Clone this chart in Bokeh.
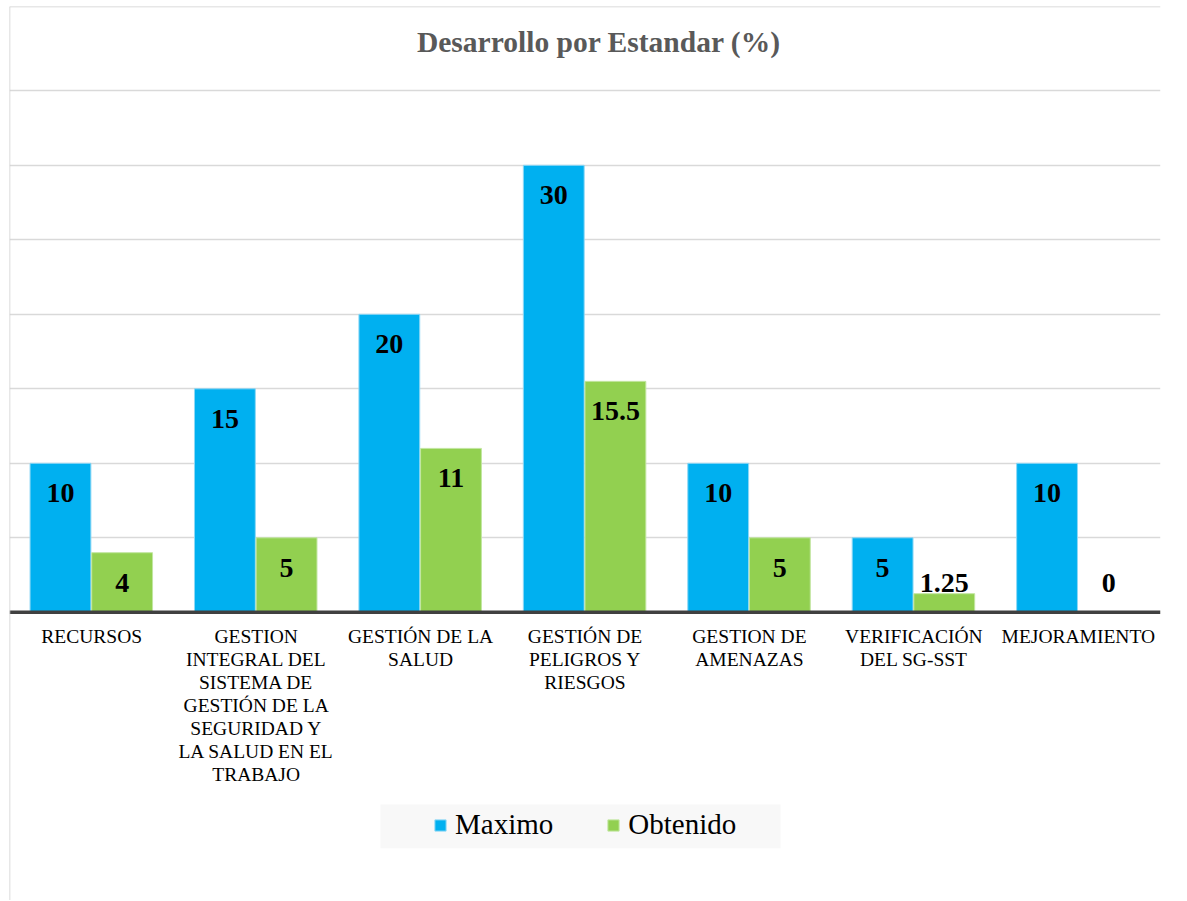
from bokeh.plotting import figure
from bokeh.models import (FactorRange, Range1d, ColumnDataSource, FixedTicker, Span,
                          Legend, LegendItem, Label, BoxAnnotation)
from bokeh.transform import dodge
from bokeh.core.properties import value
from bokeh.embed import file_html
from bokeh.resources import INLINE
import numpy as np

# ---- data ----
categories = [
    "RECURSOS",
    "GESTION\nINTEGRAL DEL\nSISTEMA DE\nGESTIÓN DE LA\nSEGURIDAD Y\nLA SALUD EN EL\nTRABAJO",
    "GESTIÓN DE LA\nSALUD",
    "GESTIÓN DE\nPELIGROS Y\nRIESGOS",
    "GESTION DE\nAMENAZAS",
    "VERIFICACIÓN\nDEL SG-SST",
    "MEJORAMIENTO",
]
maximo = [10, 15, 20, 30, 10, 5, 10]
obtenido = [4, 5, 11, 15.5, 5, 1.25, 0]
maximo_labels = ["10", "15", "20", "30", "10", "5", "10"]
obtenido_labels = ["4", "5", "11", "15.5", "5", "1.25", "0"]
grid_ticks = [5, 10, 15, 20, 25, 30, 35]
title_text = "Desarrollo por Estandar (%)"

SERIF = "Liberation Serif"
BLUE = "#00B0F0"
GREEN = "#92D050"

W, H = 1186, 900
FL, FR, FT = 9, 1160, 6          # frame left / right / top in canvas px
y0_px = 611.8                    # baseline position in canvas px
ppu = 14.9                       # pixels per unit
y_hi = (y0_px - FT) / ppu
y_lo = -(H - y0_px) / ppu

src = ColumnDataSource(dict(
    cat=categories,
    maximo=maximo,
    obtenido=obtenido,
    max_lbl=maximo_labels,
    obt_lbl=obtenido_labels,
    max_ly=np.maximum(np.array(maximo, dtype=float), 4.0),
    obt_ly=np.maximum(np.array(obtenido, dtype=float), 4.0),
    zero=[0] * len(categories),
))

p = figure(x_range=FactorRange(*categories, range_padding=0),
           y_range=Range1d(y_lo, y_hi),
           width=W, height=H, output_backend="svg", toolbar_location=None,
           min_border_left=FL, min_border_right=W - FR, min_border_top=FT, min_border_bottom=0)
p.xaxis.visible = False
p.yaxis.visible = False
p.xgrid.visible = False
p.ygrid.ticker = FixedTicker(ticks=grid_ticks)
p.ygrid.grid_line_color = "#d9d9d9"
p.ygrid.grid_line_width = 1.3
p.outline_line_color = None
p.background_fill_color = "white"
p.border_fill_color = "white"

# bars
r_max = p.vbar(x=dodge("cat", -0.19, range=p.x_range), top="maximo", width=0.37, source=src,
               fill_color=BLUE, line_color="#8fd8f5", line_width=1)
r_obt = p.vbar(x=dodge("cat", 0.185, range=p.x_range), top="obtenido", width=0.37, source=src,
               fill_color=GREEN, line_color="#c2e6a0", line_width=1)

# baseline
p.add_layout(Span(location=0, dimension="width", line_color="#404040", line_width=3.5))
# chart border (left / top)
p.add_layout(Span(location=0, dimension="height", line_color="#cfcfcf", line_width=1.5))
p.add_layout(Span(location=y_hi, dimension="width", line_color="#cfcfcf", line_width=1.5))

# value labels
p.text(x=dodge("cat", -0.19, range=p.x_range), y="max_ly", text="max_lbl", source=src,
       y_offset=30, text_align="center", text_baseline="middle",
       text_font=value(SERIF), text_font_style="bold", text_font_size="28px", text_color="black")
p.text(x=dodge("cat", 0.185, range=p.x_range), y="obt_ly", text="obt_lbl", source=src,
       y_offset=30, text_align="center", text_baseline="middle",
       text_font=value(SERIF), text_font_style="bold", text_font_size="28px", text_color="black")

# category labels
p.text(x="cat", y="zero", text="cat", source=src, y_offset=14,
       text_align="center", text_baseline="top", text_line_height=1.09,
       text_font=value(SERIF), text_font_size="19.5px", text_color="black")

# title
p.add_layout(Label(x=598.5 - FL, y=H - 43.3 + 1.5, x_units="screen", y_units="screen",
                   text=title_text, text_align="center", text_baseline="middle",
                   text_font=SERIF, text_font_style="bold", text_font_size="29.5px",
                   text_color="#595959"))

# legend background
p.add_layout(BoxAnnotation(left=380 - FL, right=780 - FL, bottom=H - 847.7, top=H - 804,
                           left_units="screen", right_units="screen",
                           bottom_units="screen", top_units="screen",
                           fill_color="#f8f8f8", fill_alpha=1, line_color=None))

legend = Legend(items=[LegendItem(label="Maximo", renderers=[r_max]),
                       LegendItem(label="Obtenido", renderers=[r_obt])],
                location=(433 - FL, 59), orientation="horizontal",
                glyph_width=14, glyph_height=14, label_standoff=8, spacing=53,
                padding=0, margin=0, background_fill_alpha=0, border_line_color=None,
                label_text_font=SERIF, label_text_font_size="29px", label_text_color="black")
p.add_layout(legend, "center")

open("out.html", "w").write(file_html(p, INLINE))
